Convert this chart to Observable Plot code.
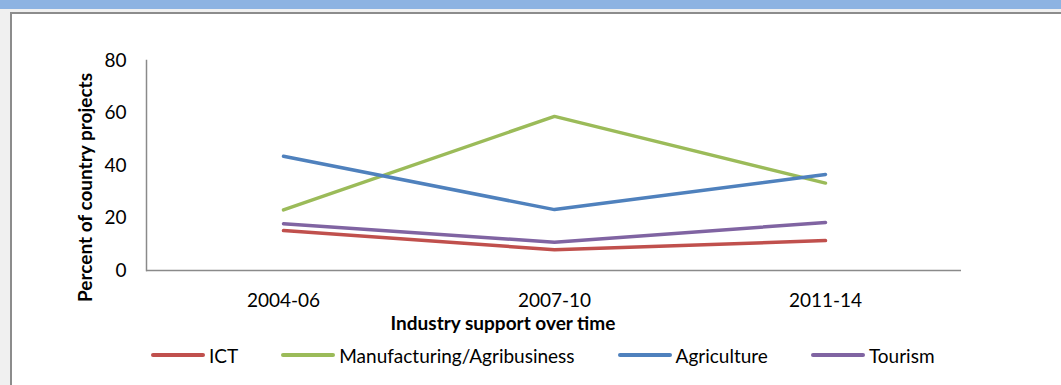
<!DOCTYPE html>
<html>
<head>
<meta charset="utf-8">
<script src="https://cdn.jsdelivr.net/npm/d3@7"></script>
<script src="https://cdn.jsdelivr.net/npm/@observablehq/plot@0.6"></script>
<style>
  html, body { margin: 0; padding: 0; background: #f0f0f0; }
  #wrap { position: relative; width: 1061px; height: 385px; overflow: hidden; background: #f0f0f0; font-family: Lato, "Liberation Sans", sans-serif; }
  #topbar { position: absolute; left: 0; top: 0; width: 1061px; height: 9px; background: #8db3e2; }
  #panel { position: absolute; left: 10px; top: 12px; width: 1100px; height: 420px; background: #fff;
           border-left: 2px solid #8c8c8c; border-top: 2px solid #8c8c8c; }
  #chart { position: absolute; left: 0; top: 0; }
  #legend { position: absolute; left: 151px; top: 343px; height: 24px; display: flex; align-items: center;
            font-size: 19px; color: #000; white-space: nowrap; }
  .item { display: flex; align-items: center; margin-right: 43px; }
  .swatch { width: 54px; height: 4px; border-radius: 2px; margin-right: 4px; }
</style>
</head>
<body>
<div id="wrap">
  <div id="topbar"></div>
  <div id="panel"></div>
  <div id="chart"></div>
  <div id="legend"></div>
</div>
<script>
const categories = ["2004-06", "2007-10", "2011-14"];
const seriesNames = ["ICT", "Manufacturing/Agribusiness", "Agriculture", "Tourism"];
const seriesColors = ["#c0504d", "#9bbb59", "#4f81bd", "#8064a2"];
const ict = [15.2, 7.9, 11.4];
const manufacturing = [23.1, 58.7, 33.3];
const agriculture = [43.5, 23.2, 36.6];
const tourism = [17.8, 10.8, 18.3];
const yTicks = [0, 20, 40, 60, 80];
const xTitle = "Industry support over time";
const yTitle = "Percent of country projects";

const seriesValues = [ict, manufacturing, agriculture, tourism];
const data = [];
seriesNames.forEach((name, i) => {
  categories.forEach((c, j) => data.push({series: name, period: c, value: seriesValues[i][j]}));
});

const chart = Plot.plot({
  width: 1061,
  height: 335,
  marginLeft: 146,
  marginRight: 100,
  marginTop: 60,
  marginBottom: 65,
  style: {background: "transparent", fontFamily: "Lato, 'Liberation Sans', sans-serif", fontSize: "19px", color: "#000", overflow: "visible"},
  x: {type: "point", domain: categories, padding: 0.5},
  y: {domain: [0, 80]},
  color: {domain: seriesNames, range: seriesColors},
  marks: [
    Plot.axisY({ticks: yTicks, tickSize: 0, tickPadding: 20, label: null, fontSize: 19}),
    Plot.axisX({tickSize: 0, tickPadding: 23, label: null, fontSize: 19}),
    Plot.frame({anchor: "left", stroke: "#8a8a8a", strokeWidth: 1.5}),
    Plot.ruleY([0], {stroke: "#8a8a8a", strokeWidth: 1.5}),
    Plot.lineY(data, {x: "period", y: "value", z: "series", stroke: "series", strokeWidth: 3.5, strokeLinecap: "round", strokeLinejoin: "round"}),
    Plot.text([yTitle], {frameAnchor: "left", rotate: -90, dx: -61, dy: 22, textAnchor: "middle", lineAnchor: "middle", fontWeight: "bold", fontSize: 19, fill: "#000"}),
    Plot.text([xTitle], {frameAnchor: "bottom", dx: -51, dy: 53, textAnchor: "middle", lineAnchor: "middle", fontWeight: "bold", fontSize: 19, fill: "#000"})
  ]
});
document.getElementById("chart").appendChild(chart);

const legend = document.getElementById("legend");
seriesNames.forEach((name, i) => {
  const item = document.createElement("div");
  item.className = "item";
  const sw = document.createElement("div");
  sw.className = "swatch";
  sw.style.background = seriesColors[i];
  const label = document.createElement("span");
  label.textContent = name;
  item.appendChild(sw);
  item.appendChild(label);
  legend.appendChild(item);
});
</script>
</body>
</html>
